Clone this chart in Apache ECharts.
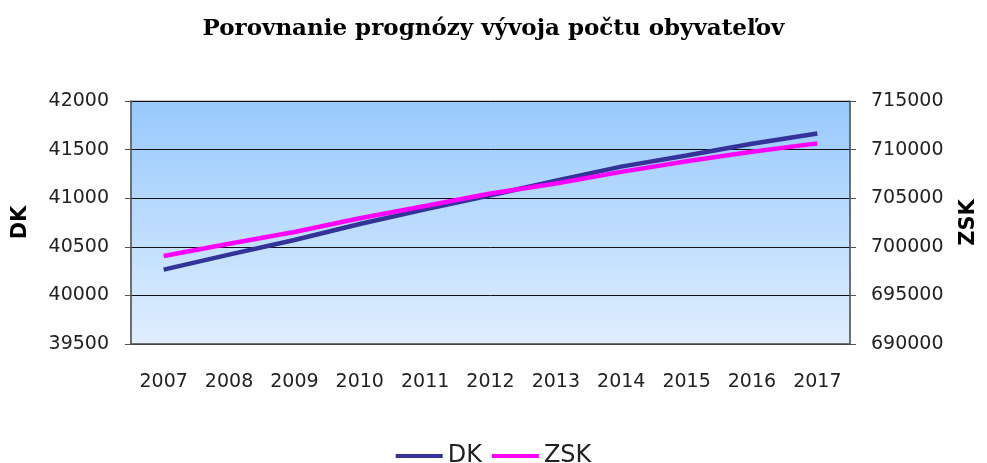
<html>
<head>
<meta charset="utf-8">
<script src="https://cdn.jsdelivr.net/npm/echarts@6/dist/echarts.min.js"></script>
<style>
  body { margin: 0; }
  #main { width: 987px; height: 463px; }
</style>
</head>
<body>
<div id="main"></div>
<script>
var years = ['2007', '2008', '2009', '2010', '2011', '2012', '2013', '2014', '2015', '2016', '2017'];
var dk = [40265, 40420, 40570, 40735, 40885, 41030, 41180, 41325, 41440, 41560, 41665];
var zsk = [699050, 700320, 701520, 702940, 704200, 705480, 706520, 707710, 708810, 709770, 710640];

var chart = echarts.init(document.getElementById('main'));
var labelFont = { fontFamily: 'DejaVu Sans', fontSize: 19, color: '#222' };
var plain = function (v) { return String(v); };

option = {
  animation: false,
  title: {
    text: 'Porovnanie prognózy vývoja počtu obyvateľov',
    left: 'center',
    top: 13,
    textStyle: {
      fontFamily: 'DejaVu Serif',
      fontWeight: 'bold',
      fontSize: 23,
      color: '#000'
    }
  },
  legend: {
    top: 439,
    left: 'center',
    icon: 'rect',
    itemWidth: 47,
    itemHeight: 4,
    itemGap: 10,
    textStyle: { fontFamily: 'DejaVu Sans', fontSize: 24, color: '#222' },
    data: ['DK', 'ZSK']
  },
  grid: {
    left: 131,
    right: 135,
    top: 101,
    bottom: 119,
    show: true,
    borderColor: '#888',
    borderWidth: 1,
    backgroundColor: new echarts.graphic.LinearGradient(0, 0, 0, 1, [
      { offset: 0, color: '#97c9fd' },
      { offset: 1, color: '#e0eefe' }
    ])
  },
  xAxis: {
    type: 'category',
    data: years,
    boundaryGap: true,
    axisLine: { lineStyle: { color: '#555', width: 1.5 } },
    axisTick: { length: 8, lineStyle: { color: '#666' } },
    axisLabel: Object.assign({ margin: 29 }, labelFont)
  },
  yAxis: [
    {
      type: 'value',
      name: 'DK',
      nameLocation: 'middle',
      nameGap: 100,
      nameTextStyle: { fontFamily: 'DejaVu Sans', fontWeight: 'bold', fontSize: 21, color: '#000' },
      min: 39500,
      max: 42000,
      interval: 500,
      axisLine: { show: true, lineStyle: { color: '#555', width: 1.5 } },
      axisTick: { show: true, length: 6, lineStyle: { color: '#555' } },
      axisLabel: Object.assign({ margin: 22, formatter: plain }, labelFont),
      splitLine: { lineStyle: { color: '#111', width: 1 } }
    },
    {
      type: 'value',
      name: 'ZSK',
      nameLocation: 'middle',
      nameGap: 108,
      nameTextStyle: { fontFamily: 'DejaVu Sans', fontWeight: 'bold', fontSize: 21, color: '#000' },
      min: 690000,
      max: 715000,
      interval: 5000,
      axisLine: { show: true, lineStyle: { color: '#555', width: 1.5 } },
      axisTick: { show: true, length: 6, lineStyle: { color: '#555' } },
      axisLabel: Object.assign({ margin: 21, formatter: plain }, labelFont),
      splitLine: { show: false }
    }
  ],
  series: [
    {
      name: 'DK',
      type: 'line',
      yAxisIndex: 0,
      data: dk,
      symbol: 'none',
      lineStyle: { color: '#333399', width: 4.5 },
      itemStyle: { color: '#333399' }
    },
    {
      name: 'ZSK',
      type: 'line',
      yAxisIndex: 1,
      data: zsk,
      symbol: 'none',
      lineStyle: { color: '#ff00ff', width: 4.5 },
      itemStyle: { color: '#ff00ff' }
    }
  ]
};
chart.setOption(option);
</script>
</body>
</html>
